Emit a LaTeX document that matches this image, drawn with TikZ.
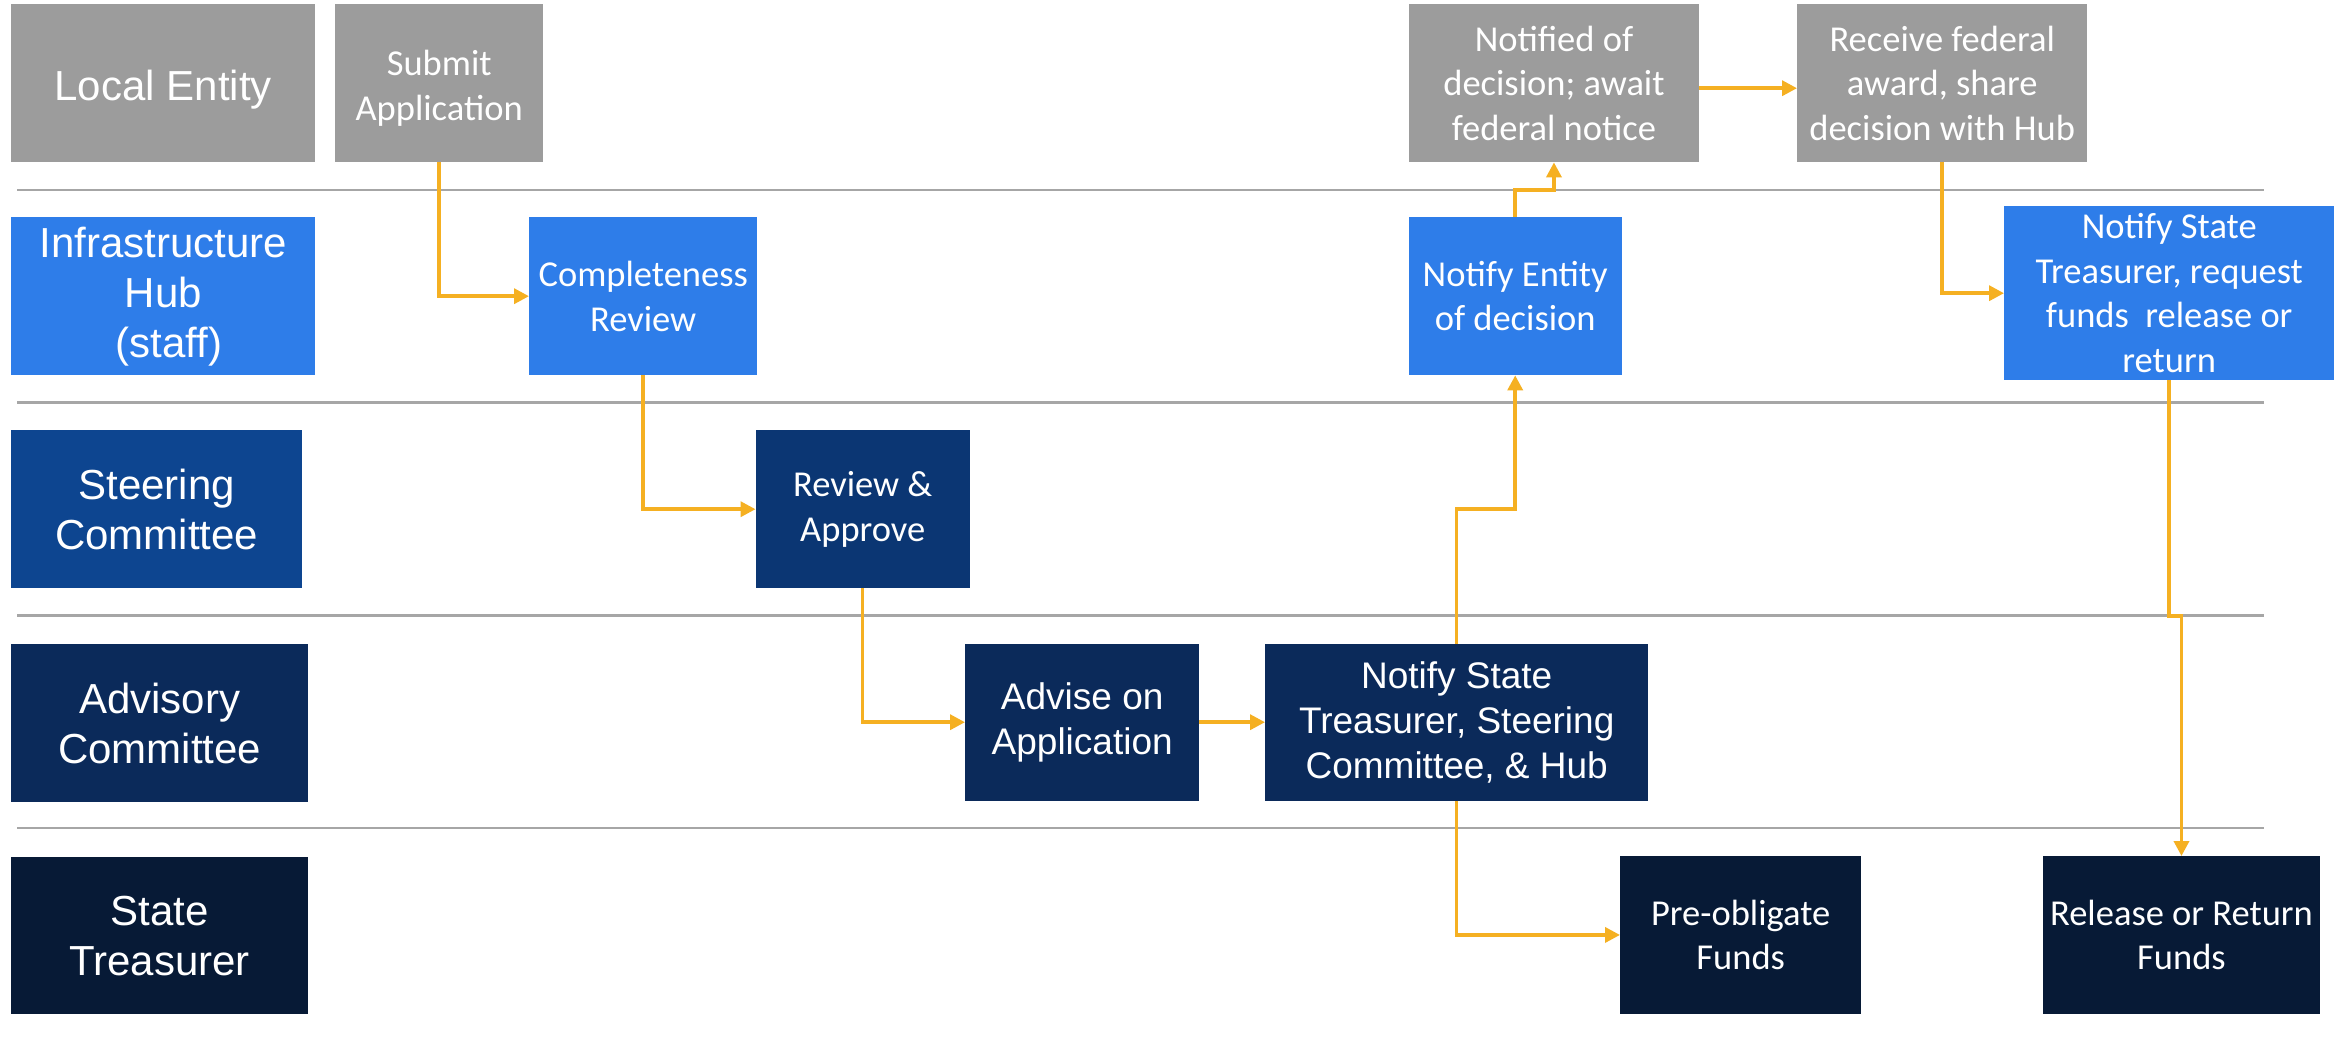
\documentclass[tikz,border=0pt]{standalone}
\usepackage{fontspec}
\setmainfont{Carlito}
\newfontfamily\arialf{Liberation Sans}
\usetikzlibrary{arrows.meta}
\definecolor{boxgray}{HTML}{9C9C9C}
\definecolor{hubblue}{HTML}{2E7DE9}
\definecolor{steerlabel}{HTML}{0D4590}
\definecolor{steerbox}{HTML}{0B3673}
\definecolor{advblue}{HTML}{0B2A5A}
\definecolor{treasblue}{HTML}{071A36}
\definecolor{flow}{HTML}{F5B022}
\definecolor{sepgray}{HTML}{A6A6A6}
\begin{document}
\begin{tikzpicture}[x=1pt,y=-1pt,
  box/.style={anchor=north west, inner sep=0pt, text=white, align=center},
  lane/.style={box, font=\arialf\fontsize{42}{50}\selectfont},
  stepbox/.style={box, font=\fontsize{36.5}{44.5}\selectfont},
  stepboxa/.style={box, font=\arialf\fontsize{37}{45}\selectfont},
  flowline/.style={draw=flow, line width=3.5pt, -{Triangle[length=15pt,width=15pt]}},
  sepline/.style={draw=sepgray, line width=2.5pt}]
\useasboundingbox (0,0) rectangle (2344,1038);
\fill[white] (0,0) rectangle (2344,1038);

% separators
\coordinate (s1a) at (17,190);   \coordinate (s1b) at (2264,190);
\coordinate (s2a) at (17,402.5); \coordinate (s2b) at (2264,402.5);
\coordinate (s3a) at (17,615.5); \coordinate (s3b) at (2264,615.5);
\coordinate (s4a) at (17,828);   \coordinate (s4b) at (2264,828);
\draw[sepline] (s1a) -- (s1b);
\draw[sepline] (s2a) -- (s2b);
\draw[sepline] (s3a) -- (s3b);
\draw[sepline] (s4a) -- (s4b);

% lane labels
\node[lane, fill=boxgray, minimum width=304pt, minimum height=158pt] (le) at (11,4) {\raisebox{-6pt}[\height][\depth]{Local Entity}};
\node[lane, fill=hubblue, minimum width=304pt, minimum height=158pt] (hub) at (11,217) {Infrastructure\\Hub\\\ (staff)};
\node[lane, fill=steerlabel, minimum width=291pt, minimum height=158pt] (sc) at (11,430) {Steering\\Committee};
\node[lane, fill=advblue, minimum width=297pt, minimum height=158pt] (ac) at (11,644) {Advisory\\Committee};
\node[lane, fill=treasblue, minimum width=297pt, minimum height=157pt] (st) at (11,857) {State\\Treasurer};

% steps
\node[stepbox, fill=boxgray, minimum width=208pt, minimum height=158pt] (submit) at (335,4) {\raisebox{-6pt}[\height][\depth]{\begin{tabular}{@{}c@{}}Submit\\Application\end{tabular}}};
\node[stepbox, fill=hubblue, minimum width=228pt, minimum height=158pt] (compl) at (529,217) {Completeness\\Review};
\node[stepbox, fill=steerbox, minimum width=214pt, minimum height=158pt] (review) at (755.5,430) {Review \&\\Approve};
\node[stepboxa, fill=advblue, minimum width=234pt, minimum height=157pt] (advise) at (965,643.5) {Advise on\\Application};
\node[stepboxa, fill=advblue, minimum width=383pt, minimum height=157pt] (notsts) at (1265,643.5) {Notify State\\Treasurer, Steering\\Committee, \& Hub};
\node[stepbox, fill=treasblue, minimum width=241pt, minimum height=157.5pt] (preob) at (1620,856) {Pre-obligate\\Funds};
\node[stepbox, fill=hubblue, minimum width=213pt, minimum height=158pt] (notent) at (1408.5,217) {Notify Entity\\of decision};
\node[stepbox, fill=boxgray, minimum width=290.5pt, minimum height=158pt] (notified) at (1408.5,4) {Notified of\\decision; await\\federal notice};
\node[stepbox, fill=boxgray, minimum width=290pt, minimum height=158pt] (receive) at (1797,4) {Receive federal\\award, share\\decision with Hub};
\node[stepbox, fill=hubblue, minimum width=330pt, minimum height=174pt] (notreq) at (2004,206) {Notify State\\Treasurer, request\\funds\ \ release or\\return};
\node[stepbox, fill=treasblue, minimum width=277.5pt, minimum height=157.5pt] (release) at (2042.5,856) {Release or Return\\Funds};

% connectors
\coordinate (j1) at (0,509);
\coordinate (j2) at (0,190);
\coordinate (j3) at (0,616);
\draw[flowline] (submit.south) |- (compl.west);
\draw[flowline] (compl.south) |- (review.west);
\draw[flowline] (review.south) |- (advise.west);
\draw[flowline] (advise.east) -- (notsts.west);
\draw[flowline] (notsts.north) -- (notsts.north |- j1) -| (notent.south);
\draw[flowline] (notsts.south) |- (preob.west);
\draw[flowline] (notent.north) -- (notent.north |- j2) -| (notified.south);
\draw[flowline] ([yshift=-5pt]notified.east) -- ([yshift=-5pt]receive.west);
\draw[flowline] (receive.south) |- (notreq.west);
\draw[flowline] (notreq.south) -- (notreq.south |- j3) -| (release.north);
\end{tikzpicture}
\end{document}
